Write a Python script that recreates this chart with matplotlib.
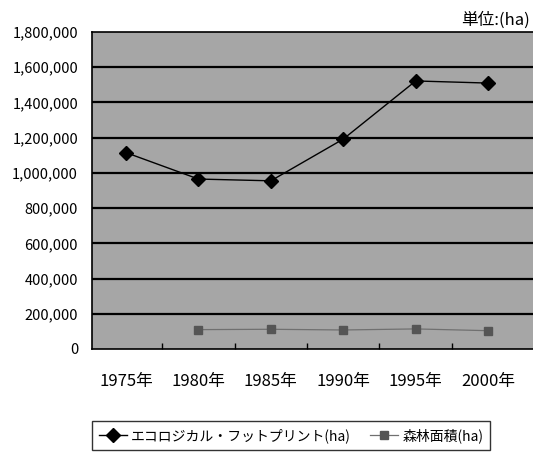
import numpy as np
import matplotlib
matplotlib.use('Agg')
import matplotlib.pyplot as plt
from matplotlib.ticker import FuncFormatter, FixedLocator

plt.rcParams['font.family'] = ['Noto Sans CJK JP', 'DejaVu Sans']

# データ（単位: ha）
years = ['1975年', '1980年', '1985年', '1990年', '1995年', '2000年']
footprint = [1115000, 965000, 955000, 1192000, 1522000, 1510000]
forest = [np.nan, 110000, 112000, 108000, 114000, 104000]

fig = plt.figure(figsize=(5.33, 4.57), dpi=100)
W, H = 533, 457
ax = fig.add_axes([92 / W, (H - 349) / H, (W - 92) / W, 317 / H])
ax.set_facecolor('#a6a6a6')

x = np.arange(len(years))
ax.plot(x, footprint, color='black', lw=1.0, marker='D', ms=7,
        mfc='black', mec='black', label='エコロジカル・フットプリント(ha)', zorder=4)
ax.plot(x, forest, color='#707070', lw=0.9, marker='s', ms=6,
        mfc='#555555', mec='#555555', label='森林面積(ha)', zorder=4)

# y軸
ax.set_ylim(0, 1800000)
ax.set_yticks(np.arange(0, 1800001, 200000))
ax.yaxis.set_major_formatter(FuncFormatter(lambda v, p: f'{int(v):,}'))
ax.tick_params(axis='y', length=0, pad=10, labelsize=10.5)
for v in range(200000, 1800000, 200000):
    ax.axhline(v, color='black', lw=1.6, zorder=2)

# x軸
ax.set_xlim(-0.47, 5.62)
ax.set_xticks(x)
ax.set_xticklabels(years, fontsize=12)
ax.tick_params(axis='x', length=0, pad=17)
ax.xaxis.set_minor_locator(FixedLocator(x[:-1] + 0.5))
ax.tick_params(axis='x', which='minor', direction='in', length=4, width=1, color='black')

for s in ['left', 'bottom', 'top']:
    ax.spines[s].set_color('black')
    ax.spines[s].set_linewidth(1.2)
ax.spines['right'].set_visible(False)

fig.text(530 / W, 1 - 29 / H, '単位:(ha)', ha='right', va='bottom', fontsize=12)

leg = fig.legend(loc='upper left', bbox_to_anchor=(92 / W, 1 - 421 / H), ncol=2,
                 fontsize=10, frameon=True, fancybox=False, edgecolor='black',
                 handlelength=2.0, handletextpad=0.3, columnspacing=1.4,
                 borderpad=0.5, borderaxespad=0)
leg.get_frame().set_linewidth(1.0)

fig.savefig('out.png', dpi=100)
